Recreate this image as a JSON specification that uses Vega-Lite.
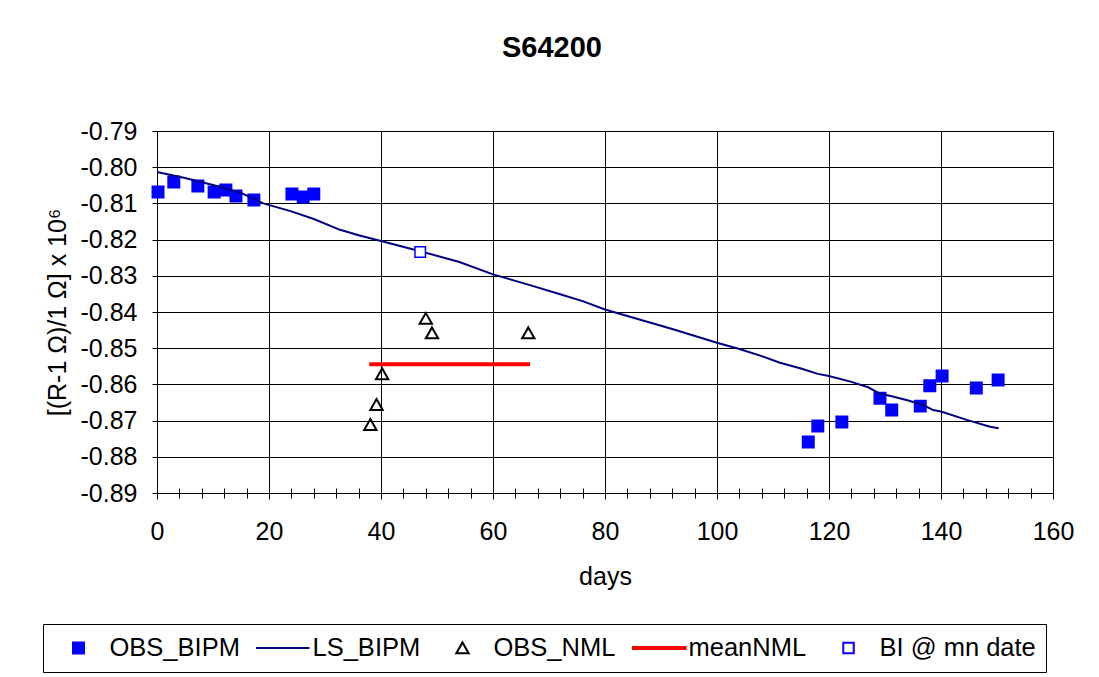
{
  "$schema": "https://vega.github.io/schema/vega-lite/v6.json",
  "width": 896,
  "height": 362,
  "autosize": {"type": "none"},
  "padding": {"left": 157, "top": 131, "right": 46, "bottom": 184},
  "background": "white",
  "title": {"text": "S64200", "fontSize": 29, "fontWeight": "bold", "font": "Liberation Sans", "color": "#000", "anchor": "middle", "offset": 56, "dx": -53},
  "datasets": {
    "obs_bipm": [
      {"series": "OBS_BIPM", "d": 0.18, "v": -0.80685},
      {"series": "OBS_BIPM", "d": 3.0, "v": -0.80409},
      {"series": "OBS_BIPM", "d": 7.3, "v": -0.80519},
      {"series": "OBS_BIPM", "d": 10.2, "v": -0.80685},
      {"series": "OBS_BIPM", "d": 12.3, "v": -0.8063},
      {"series": "OBS_BIPM", "d": 14.1, "v": -0.80796},
      {"series": "OBS_BIPM", "d": 17.3, "v": -0.80906},
      {"series": "OBS_BIPM", "d": 24.1, "v": -0.8074},
      {"series": "OBS_BIPM", "d": 26.1, "v": -0.80823},
      {"series": "OBS_BIPM", "d": 28.0, "v": -0.8074},
      {"series": "OBS_BIPM", "d": 116.3, "v": -0.8759},
      {"series": "OBS_BIPM", "d": 118.0, "v": -0.8715},
      {"series": "OBS_BIPM", "d": 122.3, "v": -0.8704},
      {"series": "OBS_BIPM", "d": 129.1, "v": -0.8638},
      {"series": "OBS_BIPM", "d": 131.2, "v": -0.8671},
      {"series": "OBS_BIPM", "d": 136.3, "v": -0.866},
      {"series": "OBS_BIPM", "d": 138.0, "v": -0.8604},
      {"series": "OBS_BIPM", "d": 140.2, "v": -0.8577},
      {"series": "OBS_BIPM", "d": 146.3, "v": -0.861},
      {"series": "OBS_BIPM", "d": 150.2, "v": -0.8588}
    ],
    "ls_bipm": [
      {"series": "LS_BIPM", "d": 0, "v": -0.8013},
      {"series": "LS_BIPM", "d": 5, "v": -0.803},
      {"series": "LS_BIPM", "d": 10, "v": -0.8049},
      {"series": "LS_BIPM", "d": 15, "v": -0.8071},
      {"series": "LS_BIPM", "d": 19, "v": -0.81},
      {"series": "LS_BIPM", "d": 24, "v": -0.8122},
      {"series": "LS_BIPM", "d": 28, "v": -0.8143},
      {"series": "LS_BIPM", "d": 32.7, "v": -0.8173},
      {"series": "LS_BIPM", "d": 36, "v": -0.8188},
      {"series": "LS_BIPM", "d": 40, "v": -0.8204},
      {"series": "LS_BIPM", "d": 47, "v": -0.8232},
      {"series": "LS_BIPM", "d": 54, "v": -0.8262},
      {"series": "LS_BIPM", "d": 60, "v": -0.8296},
      {"series": "LS_BIPM", "d": 66, "v": -0.8323},
      {"series": "LS_BIPM", "d": 72, "v": -0.8351},
      {"series": "LS_BIPM", "d": 76, "v": -0.837},
      {"series": "LS_BIPM", "d": 80, "v": -0.8393},
      {"series": "LS_BIPM", "d": 86, "v": -0.842},
      {"series": "LS_BIPM", "d": 92, "v": -0.8447},
      {"series": "LS_BIPM", "d": 100, "v": -0.8485},
      {"series": "LS_BIPM", "d": 104, "v": -0.8502},
      {"series": "LS_BIPM", "d": 108, "v": -0.8522},
      {"series": "LS_BIPM", "d": 111.25, "v": -0.854},
      {"series": "LS_BIPM", "d": 115, "v": -0.8556},
      {"series": "LS_BIPM", "d": 118, "v": -0.8571},
      {"series": "LS_BIPM", "d": 120, "v": -0.8577},
      {"series": "LS_BIPM", "d": 124, "v": -0.8593},
      {"series": "LS_BIPM", "d": 127, "v": -0.8608},
      {"series": "LS_BIPM", "d": 129, "v": -0.8625},
      {"series": "LS_BIPM", "d": 131, "v": -0.8632},
      {"series": "LS_BIPM", "d": 134, "v": -0.8644},
      {"series": "LS_BIPM", "d": 136.8, "v": -0.8657},
      {"series": "LS_BIPM", "d": 138.6, "v": -0.8671},
      {"series": "LS_BIPM", "d": 140, "v": -0.8675},
      {"series": "LS_BIPM", "d": 144.6, "v": -0.8698},
      {"series": "LS_BIPM", "d": 148.75, "v": -0.8717},
      {"series": "LS_BIPM", "d": 150.3, "v": -0.8721}
    ],
    "obs_nml": [
      {"series": "OBS_NML", "d": 38.1, "v": -0.8711},
      {"series": "OBS_NML", "d": 39.2, "v": -0.8656},
      {"series": "OBS_NML", "d": 40.2, "v": -0.8571},
      {"series": "OBS_NML", "d": 48.0, "v": -0.8418},
      {"series": "OBS_NML", "d": 49.1, "v": -0.8458},
      {"series": "OBS_NML", "d": 66.3, "v": -0.8458}
    ],
    "mean_nml": [
      {"series": "meanNML", "d": 37.9, "v": -0.8544},
      {"series": "meanNML", "d": 66.6, "v": -0.8544}
    ],
    "bi": [
      {"series": "BI @ mn date", "d": 47.0, "v": -0.8234}
    ]
  },
  "layer": [
    {
      "data": {"name": "obs_bipm"},
      "mark": {"type": "point", "filled": true, "size": 3136, "strokeWidth": 2, "opacity": 1},
      "encoding": {
        "x": {
          "field": "d", "type": "quantitative",
          "scale": {"domain": [0, 160], "nice": false, "zero": false},
          "axis": {
            "orient": "bottom",
            "values": [0, 20, 40, 60, 80, 100, 120, 140, 160],
            "tickCount": 20,
            "grid": true, "tickSize": 6, "labelPadding": 20,
            "title": "days", "titlePadding": 20,
            "labelFlush": false, "labelOverlap": false
          }
        },
        "y": {
          "field": "v", "type": "quantitative",
          "scale": {"domain": [-0.89, -0.79], "nice": false, "zero": false},
          "axis": {
            "values": [-0.89, -0.88, -0.87, -0.86, -0.85, -0.84, -0.83, -0.82, -0.81, -0.8, -0.79],
            "tickCount": 20,
            "format": ".2f",
            "labelExpr": "replace(datum.label, '\u2212', '-')",
            "grid": true, "tickSize": 5, "labelPadding": 15,
            "title": "[(R-1 Ω)/1 Ω] x 10⁶", "titlePadding": 10,
            "labelFlush": false, "labelOverlap": false
          }
        },
        "stroke": {
          "field": "series", "type": "nominal",
          "scale": {
            "domain": ["OBS_BIPM", "LS_BIPM", "OBS_NML", "meanNML", "BI @ mn date"],
            "range": ["#0000FF", "#000080", "#000000", "#FF0000", "#0000FF"]
          },
          "legend": {
            "orient": "none", "legendX": -114, "legendY": 493,
            "direction": "horizontal", "columns": 5, "title": null,
            "padding": 10, "clipHeight": 28, "columnPadding": 16,
            "symbolOffset": -3.5, "labelOffset": 2,
            "symbolSize": 3136, "symbolStrokeWidth": 2, "symbolOpacity": 1,
            "strokeColor": "#000", "fillColor": "#fff",
            "labelFont": "Liberation Sans", "labelFontSize": 25.5, "labelColor": "#000", "labelLimit": 400
          }
        },
        "fill": {
          "field": "series", "type": "nominal",
          "scale": {
            "domain": ["OBS_BIPM", "LS_BIPM", "OBS_NML", "meanNML", "BI @ mn date"],
            "range": ["#0000FF", "transparent", "transparent", "#FF0000", "#FFFFFF"]
          }
        },
        "shape": {
          "field": "series", "type": "nominal",
          "scale": {
            "domain": ["OBS_BIPM", "LS_BIPM", "OBS_NML", "meanNML", "BI @ mn date"],
            "range": [
              "M-0.196,-0.196H0.196V0.196H-0.196Z",
              "M-1,0H1",
              "M0,-0.2L0.22,0.19L-0.22,0.19Z",
              "M-1,-0.0357H1V0.0357H-1Z",
              "M-0.1875,-0.1875H0.1875V0.1875H-0.1875Z"
            ]
          }
        }
      }
    },
    {
      "data": {"name": "ls_bipm"},
      "mark": {"type": "line", "strokeWidth": 2},
      "encoding": {
        "x": {
          "field": "d", "type": "quantitative",
          "axis": {
            "orient": "bottom",
            "values": [4, 8, 12, 16, 24, 28, 32, 36, 44, 48, 52, 56, 64, 68, 72, 76, 84, 88, 92, 96, 104, 108, 112, 116, 124, 128, 132, 136, 144, 148, 152, 156],
            "tickCount": 60,
            "offset": -5, "tickSize": 10, "labels": false, "domain": false, "grid": false, "title": null
          }
        },
        "y": {"field": "v", "type": "quantitative"},
        "stroke": {"field": "series", "type": "nominal"}
      }
    },
    {
      "data": {"name": "obs_nml"},
      "mark": {"type": "point", "filled": true, "size": 3136, "strokeWidth": 2, "opacity": 1},
      "encoding": {
        "x": {"field": "d", "type": "quantitative", "axis": null},
        "y": {"field": "v", "type": "quantitative"},
        "stroke": {"field": "series", "type": "nominal"},
        "fill": {"field": "series", "type": "nominal"},
        "shape": {"field": "series", "type": "nominal"}
      }
    },
    {
      "data": {"name": "mean_nml"},
      "mark": {"type": "line", "strokeWidth": 4},
      "encoding": {
        "x": {"field": "d", "type": "quantitative", "axis": null},
        "y": {"field": "v", "type": "quantitative"},
        "stroke": {"field": "series", "type": "nominal"}
      }
    },
    {
      "data": {"name": "bi"},
      "mark": {"type": "point", "filled": true, "size": 3136, "strokeWidth": 1.5, "opacity": 1},
      "encoding": {
        "x": {"field": "d", "type": "quantitative", "axis": null},
        "y": {"field": "v", "type": "quantitative"},
        "stroke": {"field": "series", "type": "nominal"},
        "fill": {"field": "series", "type": "nominal"},
        "shape": {"field": "series", "type": "nominal"}
      }
    }
  ],
  "resolve": {"axis": {"x": "independent"}},
  "config": {
    "font": "Liberation Sans",
    "view": {"stroke": "#000", "strokeWidth": 1},
    "axis": {
      "labelFont": "Liberation Sans", "labelFontSize": 25, "labelColor": "#000",
      "titleFont": "Liberation Sans", "titleFontSize": 25, "titleFontWeight": "normal", "titleColor": "#000",
      "domainColor": "#000", "tickColor": "#000", "gridColor": "#000", "gridOpacity": 1, "gridWidth": 1, "tickWidth": 1, "domainWidth": 1
    }
  }
}
